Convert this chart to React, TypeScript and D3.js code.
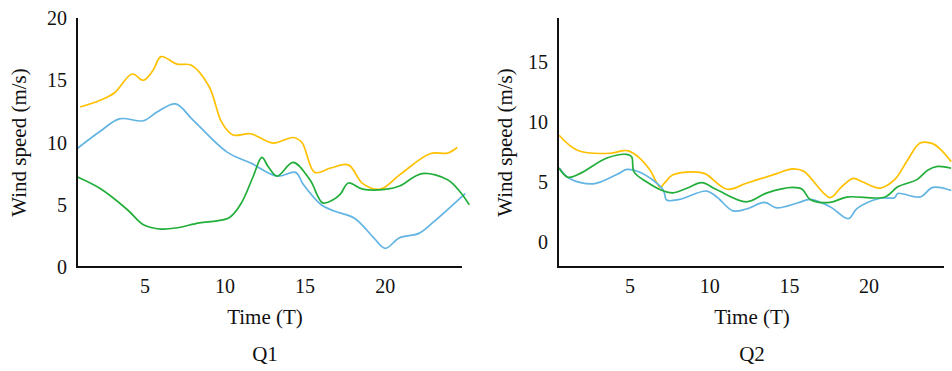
import React from 'react';
import * as d3 from 'd3';

// Q1 readings (time, wind speed)
const q1YellowT = [0.94, 2.2, 3.1, 4.2, 4.9, 5.5, 6.0, 7.0, 7.9, 9.0, 9.8, 10.5, 11.6, 13.0, 14.25, 14.8, 15.6, 16.6, 17.7, 18.6, 19.7, 20.9, 22.8, 23.9, 24.5];
const q1YellowV = [12.85, 13.4, 14.0, 15.5, 15.0, 15.8, 16.9, 16.3, 16.2, 14.5, 11.6, 10.6, 10.7, 9.95, 10.4, 10.0, 7.6, 7.95, 8.2, 6.7, 6.25, 7.4, 9.1, 9.15, 9.6];

const q1BlueT = [0.75, 2.2, 3.4, 4.9, 5.75, 6.9, 8.0, 10.1, 11.6, 13.25, 14.4, 14.9, 16.0, 16.8, 18.1, 19.25, 20.0, 20.9, 22.1, 23.0, 25.0];
const q1BlueV = [9.5, 10.9, 11.9, 11.75, 12.45, 13.1, 11.8, 9.25, 8.35, 7.3, 7.6, 6.6, 5.0, 4.5, 3.9, 2.4, 1.5, 2.35, 2.7, 3.6, 5.9];

const q1GreenT = [0.75, 2.2, 3.9, 4.9, 6.0, 7.0, 8.4, 9.5, 10.3, 11.0, 11.75, 12.3, 12.7, 13.25, 14.25, 15.3, 16.1, 16.75, 17.2, 17.7, 18.6, 20.1, 20.9, 22.3, 23.9, 24.7, 25.25];
const q1GreenV = [7.25, 6.3, 4.6, 3.4, 3.05, 3.15, 3.55, 3.7, 4.0, 5.1, 7.25, 8.8, 8.05, 7.3, 8.4, 7.0, 5.15, 5.4, 5.85, 6.75, 6.25, 6.25, 6.5, 7.5, 7.0, 6.0, 5.0];

// Q2 readings
const q2YellowT = [0.55, 1.7, 3.75, 4.5, 4.9, 5.6, 6.25, 6.9, 7.15, 7.7, 9.0, 9.7, 11.1, 12.3, 14.2, 15.2, 15.9, 17.55, 18.2, 19.0, 19.6, 20.7, 21.6, 22.4, 23.2, 24.0, 24.5, 25.15];
const q2YellowV = [8.9, 7.65, 7.4, 7.6, 7.6, 7.0, 6.0, 4.55, 4.9, 5.6, 5.85, 5.7, 4.4, 4.9, 5.7, 6.1, 5.9, 3.7, 4.5, 5.3, 5.0, 4.5, 5.2, 6.8, 8.25, 8.2, 7.7, 6.7];

const q2GreenT = [0.55, 1.1, 1.85, 3.55, 4.8, 5.1, 5.25, 6.05, 7.1, 7.7, 8.6, 9.5, 10.45, 12.3, 13.6, 15.2, 15.8, 16.3, 17.55, 18.6, 21.0, 21.8, 23.0, 23.7, 24.3, 25.15];
const q2GreenV = [6.15, 5.4, 5.7, 7.0, 7.3, 7.1, 5.85, 5.0, 4.25, 4.1, 4.5, 4.95, 4.35, 3.35, 4.1, 4.55, 4.4, 3.55, 3.3, 3.75, 3.75, 4.6, 5.2, 6.0, 6.3, 6.15];

const q2BlueT = [0.55, 1.2, 2.7, 4.2, 4.8, 5.45, 6.45, 7.1, 7.3, 8.1, 9.8, 10.45, 11.45, 12.3, 13.45, 14.2, 15.5, 16.3, 17.55, 18.7, 19.25, 20.7, 21.6, 21.8, 23.2, 24.0, 25.15];
const q2BlueV = [6.2, 5.3, 4.85, 5.65, 6.05, 5.9, 5.15, 4.3, 3.5, 3.55, 4.25, 3.75, 2.6, 2.75, 3.3, 2.85, 3.25, 3.55, 2.95, 1.95, 2.8, 3.65, 3.7, 4.05, 3.75, 4.55, 4.3];

const xTicks = [5, 10, 15, 20];
const q1YTicks = [0, 5, 10, 15, 20];
const q2YTicks = [0, 5, 10, 15];

const YELLOW = '#FFC000';
const BLUE = '#62B4E2';
const GREEN = '#22AE3A';
const FONT = '"Liberation Serif", "Times New Roman", serif';

type Series = { t: number[]; v: number[]; color: string };

const Panel = ({ x, y, yTicks, series, title, yLabelX, titleX }: {
  x: d3.ScaleLinear<number, number>;
  y: d3.ScaleLinear<number, number>;
  yTicks: number[];
  series: Series[];
  title: string;
  yLabelX: number;
  titleX: number;
}) => {
  const [x0, x1] = x.range();
  const [yBottom, yTop] = y.range();
  const line = d3.line<[number, number]>()
    .x(d => x(d[0]))
    .y(d => y(d[1]))
    .curve(d3.curveCatmullRom.alpha(0.5));
  const yMid = (yBottom + yTop) / 2;
  return (
    <g>
      {series.map((s, i) => (
        <path key={i} d={line(s.t.map((t, j) => [t, s.v[j]]))!} fill="none" stroke={s.color} strokeWidth={1.7} />
      ))}
      <line x1={x0} x2={x0} y1={yTop} y2={yBottom + 1} stroke="#111" strokeWidth={2} />
      <line x1={x0} x2={x1} y1={yBottom} y2={yBottom} stroke="#111" strokeWidth={2} />
      {yTicks.map(v => (
        <text key={v} x={x0 - 10} y={y(v)} dy="0.35em" textAnchor="end" fontSize={20} fontFamily={FONT} fill="#111">{v}</text>
      ))}
      {xTicks.map(t => (
        <text key={t} x={x(t)} y={yBottom + 26} textAnchor="middle" fontSize={20} fontFamily={FONT} fill="#111">{t}</text>
      ))}
      <text transform={`translate(${yLabelX},${yMid}) rotate(-90)`} textAnchor="middle" dy="0.35em" fontSize={21} fontFamily={FONT} fill="#111">Wind speed (m/s)</text>
      <text x={titleX} y={yBottom + 57} textAnchor="middle" fontSize={21} fontFamily={FONT} fill="#111">Time (T)</text>
      <text x={titleX} y={yBottom + 94} textAnchor="middle" fontSize={21} fontFamily={FONT} fill="#111">{title}</text>
    </g>
  );
};

export default function App() {
  const x1 = d3.scaleLinear().domain([0.75, 24.8]).range([77, 462]);
  const y1 = d3.scaleLinear().domain([0, 20]).range([267, 18]);
  const x2 = d3.scaleLinear().domain([0.48, 24.7]).range([558, 944]);
  const y2 = d3.scaleLinear().domain([-2.08, 18.67]).range([267, 18]);

  return (
    <svg width={952} height={371} style={{ position: 'absolute', left: 0, top: 0, background: '#fff' }}>
      <rect width={952} height={371} fill="#fff" />
      <Panel x={x1} y={y1} yTicks={q1YTicks} title="Q1" yLabelX={19} titleX={265}
        series={[
          { t: q1YellowT, v: q1YellowV, color: YELLOW },
          { t: q1BlueT, v: q1BlueV, color: BLUE },
          { t: q1GreenT, v: q1GreenV, color: GREEN },
        ]} />
      <Panel x={x2} y={y2} yTicks={q2YTicks} title="Q2" yLabelX={505} titleX={752}
        series={[
          { t: q2YellowT, v: q2YellowV, color: YELLOW },
          { t: q2BlueT, v: q2BlueV, color: BLUE },
          { t: q2GreenT, v: q2GreenV, color: GREEN },
        ]} />
    </svg>
  );
}
